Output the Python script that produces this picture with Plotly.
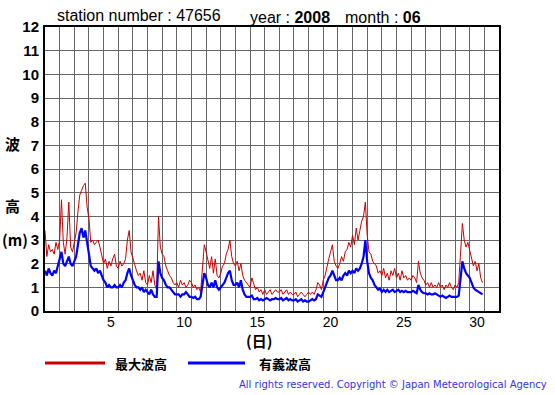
import plotly.graph_objects as go

# ---- data ----
days = list(range(1, 31))
samples_per_day = 8  # 3-hourly readings

max_wave = [
    3.4, 2.3, 2.8, 2.5, 2.6, 2.4, 2.9, 2.6,   # 1
    3.0, 4.7, 2.9, 2.4, 3.1, 4.6, 2.7, 2.5,   # 2
    2.9, 3.3, 4.2, 4.9, 5.1, 5.3, 5.4, 4.4,   # 3
    3.9, 2.9, 3.0, 2.8, 2.9, 3.0, 2.7, 2.4,   # 4
    2.0, 2.2, 1.8, 2.1, 1.9, 2.2, 2.4, 1.9,   # 5
    1.8, 2.1, 1.9, 2.0, 2.2, 3.0, 3.4, 2.5,   # 6
    2.2, 1.9, 1.7, 1.5, 1.6, 1.3, 1.7, 1.2,   # 7
    1.1, 1.5, 1.2, 1.7, 1.1, 0.9, 4.0, 2.7,   # 8
    2.4, 2.3, 1.9, 1.7, 1.5, 1.4, 1.2, 1.1,   # 9
    1.2, 1.0, 1.3, 1.1, 1.2, 1.0, 1.1, 1.3,   # 10
    1.2, 1.0, 1.1, 0.9, 1.0, 0.8, 1.9, 2.8,   # 11
    2.5, 2.2, 1.8, 2.3, 1.6, 2.2, 1.5, 1.4,   # 12
    1.6, 1.9, 2.0, 2.4, 2.6, 3.0, 2.3, 2.0,   # 13
    1.9, 2.1, 1.7, 2.0, 1.5, 1.3, 1.2, 1.1,   # 14
    1.0, 1.4, 1.1, 0.9, 1.0, 0.8, 0.9, 0.7,   # 15
    0.9, 0.7, 0.8, 0.9, 0.7, 0.8, 0.9, 0.8,   # 16
    0.8, 0.9, 0.7, 0.8, 0.9, 0.7, 0.8, 0.7,   # 17
    0.7, 0.8, 0.6, 0.7, 0.8, 0.7, 0.6, 0.7,   # 18
    0.8, 0.7, 0.8, 0.7, 0.9, 1.2, 1.1, 0.9,   # 19
    1.3, 1.5, 1.9, 2.2, 2.5, 2.8, 2.1, 1.9,   # 20
    1.8, 2.0, 2.3, 2.1, 2.5, 2.6, 2.9, 2.7,   # 21
    3.2, 2.8, 3.5, 3.0, 3.4, 3.8, 4.0, 4.6,   # 22
    3.2, 2.5, 2.4, 2.1, 2.0, 1.9, 1.6, 1.7,   # 23
    1.5, 1.8, 1.4, 1.6, 1.3, 1.7, 1.5, 1.8,   # 24
    1.4, 1.6, 1.3, 1.7, 1.4, 1.5, 1.3, 1.4,   # 25
    1.3, 1.5, 1.4, 1.2, 2.1, 1.6, 1.4, 1.3,   # 26
    1.1, 1.2, 1.0, 1.2, 1.0, 1.1, 1.0, 1.2,   # 27
    1.0, 1.1, 0.9, 1.1, 1.0, 1.2, 1.0, 0.9,   # 28
    1.1, 1.0, 1.2, 2.4, 3.7, 3.0, 2.7, 2.9,   # 29
    2.6, 2.2, 1.9, 2.1, 1.7, 2.0, 1.4, 1.2,   # 30
]

sig_wave = [
    1.7, 1.5, 1.8, 1.6, 1.5, 1.7, 1.6, 1.9,   # 1
    2.1, 2.5, 2.0, 1.9, 2.1, 2.3, 2.0, 1.9,   # 2
    2.1, 2.3, 2.8, 3.3, 3.5, 3.1, 3.4, 2.8,   # 3
    2.4, 1.9, 1.8, 1.7, 1.8, 1.6, 1.7, 1.5,   # 4
    1.3, 1.2, 1.0, 1.1, 1.0, 1.0, 1.1, 1.0,   # 5
    1.0, 1.1, 1.0, 1.2, 1.3, 1.6, 1.8, 1.5,   # 6
    1.3, 1.1, 1.0, 1.0, 0.9, 1.0, 0.8, 0.9,   # 7
    0.8, 0.7, 0.9, 0.7, 0.6, 0.6, 2.1, 1.6,   # 8
    1.4, 1.3, 1.1, 1.0, 1.0, 0.9, 0.8, 0.7,   # 9
    0.7, 0.7, 0.6, 0.7, 0.7, 0.8, 0.7, 0.6,   # 10
    0.6, 0.55, 0.6, 0.5, 0.5, 0.6, 1.1, 1.6,  # 11
    1.4, 1.1, 1.0, 1.2, 1.0, 1.3, 1.0, 0.9,   # 12
    1.0, 1.1, 1.2, 1.4, 1.6, 1.7, 1.3, 1.1,   # 13
    1.1, 1.2, 1.0, 1.3, 0.9, 0.7, 0.6, 0.6,   # 14
    0.6, 0.65, 0.5, 0.5, 0.55, 0.45, 0.5, 0.45,  # 15
    0.5, 0.55, 0.5, 0.45, 0.5, 0.5, 0.55, 0.5,   # 16
    0.5, 0.55, 0.45, 0.5, 0.55, 0.45, 0.5, 0.45, # 17
    0.45, 0.5, 0.4, 0.45, 0.5, 0.4, 0.45, 0.4,   # 18
    0.4, 0.45, 0.5, 0.45, 0.5, 0.7, 0.65, 0.6,   # 19
    0.8, 1.0, 1.2, 1.4, 1.5, 1.7, 1.5, 1.3,   # 20
    1.3, 1.4, 1.3, 1.5, 1.6, 1.5, 1.7, 1.6,   # 21
    1.7, 1.6, 1.8, 1.7, 1.8, 2.0, 2.3, 3.0,   # 22
    2.1, 1.6, 1.4, 1.3, 1.1, 1.0, 0.9, 0.95,  # 23
    0.8, 0.9, 0.8, 0.9, 0.8, 0.85, 0.9, 0.8,  # 24
    0.85, 0.9, 0.8, 0.85, 0.8, 0.85, 0.8, 0.8,   # 25
    0.8, 0.85, 0.8, 0.75, 1.1, 0.9, 0.8, 0.75,   # 26
    0.75, 0.7, 0.75, 0.7, 0.7, 0.75, 0.7, 0.65,  # 27
    0.6, 0.65, 0.6, 0.55, 0.6, 0.65, 0.6, 0.6,   # 28
    0.6, 0.6, 0.65, 1.3, 2.1, 1.8, 1.6, 1.5,     # 29
    1.4, 1.2, 1.0, 0.9, 0.85, 0.8, 0.75, 0.7,    # 30
]

x_tick_days = [5, 10, 15, 20, 25, 30]
y_ticks = list(range(0, 13))

station = "47656"
year = "2008"
month = "06"

# time axis: day number + fraction of day
t = [d + k / samples_per_day for d in days for k in range(samples_per_day)]

W, H = 555, 395
L, R, T, B = 45, 499, 27, 311  # plot area in pixels


def px(xp):
    return (xp - L) / (R - L)


def py(yp):
    return (B - yp) / (B - T)


CJK = "Noto Sans CJK JP"
LAT = "Liberation Sans, Arial, sans-serif"

fig = go.Figure()
fig.add_trace(go.Scatter(x=t, y=max_wave, mode="lines",
                         line=dict(color="#cc0000", width=1), name="最大波高",
                         showlegend=False))
fig.add_trace(go.Scatter(x=t, y=sig_wave, mode="lines",
                         line=dict(color="#0000ff", width=2.2), name="有義波高",
                         showlegend=False))

fig.update_xaxes(
    range=[1, 32], showgrid=False,
    tickmode="array", tickvals=[d + 0.5 for d in x_tick_days],
    ticktext=[str(d) for d in x_tick_days], ticks="",
    tickfont=dict(family=LAT, size=14, color="black"),
    showline=True, linecolor="black", linewidth=2, mirror=True,
    minor=dict(tick0=1, dtick=1, showgrid=True, gridcolor="#666666", gridwidth=1, ticks=""),
    zeroline=False, ticklabelstandoff=-3,
)
fig.update_yaxes(
    range=[0, 12], tickmode="array", tickvals=y_ticks, ticks="",
    tickfont=dict(family=LAT, size=15, color="black", weight="bold"),
    showgrid=True, gridcolor="#666666", gridwidth=1,
    showline=True, linecolor="black", linewidth=2, mirror=True,
    zeroline=False, ticklabelstandoff=1,
)

ann = []


def text(xp, yp, s, size=14, family=LAT, color="black", anchor="center", bold=False):
    ann.append(dict(x=px(xp), y=py(yp), xref="paper", yref="paper", text=s,
                    showarrow=False, xanchor=anchor, yanchor="middle",
                    font=dict(family=family, size=size, color=color,
                              weight="bold" if bold else "normal")))


text(55, 16, f"station number : {station}", size=16, anchor="left")
text(248, 17, f"year : <b>{year}</b>", size=16, anchor="left")
text(343, 17, f"month : <b>{month}</b>", size=16, anchor="left")

text(12, 143, "波", size=15, family=CJK, bold=True)
text(12, 205, "高", size=15, family=CJK, bold=True)
text(15, 239, "(m)", size=15, family=CJK, bold=True)
text(259, 340, "(日)", size=15, family=CJK, bold=True)

text(141, 363, "最大波高", size=13, family=CJK, bold=True)
text(285, 363, "有義波高", size=13, family=CJK, bold=True)
text(549, 384, "All rights reserved. Copyright © Japan Meteorological Agency",
     size=10, family="DejaVu Sans", color="#3333ee", anchor="right")

shapes = [
    dict(type="line", xref="paper", yref="paper", x0=px(45), x1=px(105), y0=py(363), y1=py(363),
         line=dict(color="#cc0000", width=3)),
    dict(type="line", xref="paper", yref="paper", x0=px(188), x1=px(245), y0=py(363), y1=py(363),
         line=dict(color="#0000ff", width=3)),
]

fig.update_layout(
    width=W, height=H,
    margin=dict(l=L, r=W - R, t=T, b=H - B),
    paper_bgcolor="white", plot_bgcolor="white",
    annotations=ann, shapes=shapes, showlegend=False,
)

fig.write_html("out.html", config={"displayModeBar": False},
               post_script="document.body.style.margin='0';document.body.style.overflow='hidden';")
